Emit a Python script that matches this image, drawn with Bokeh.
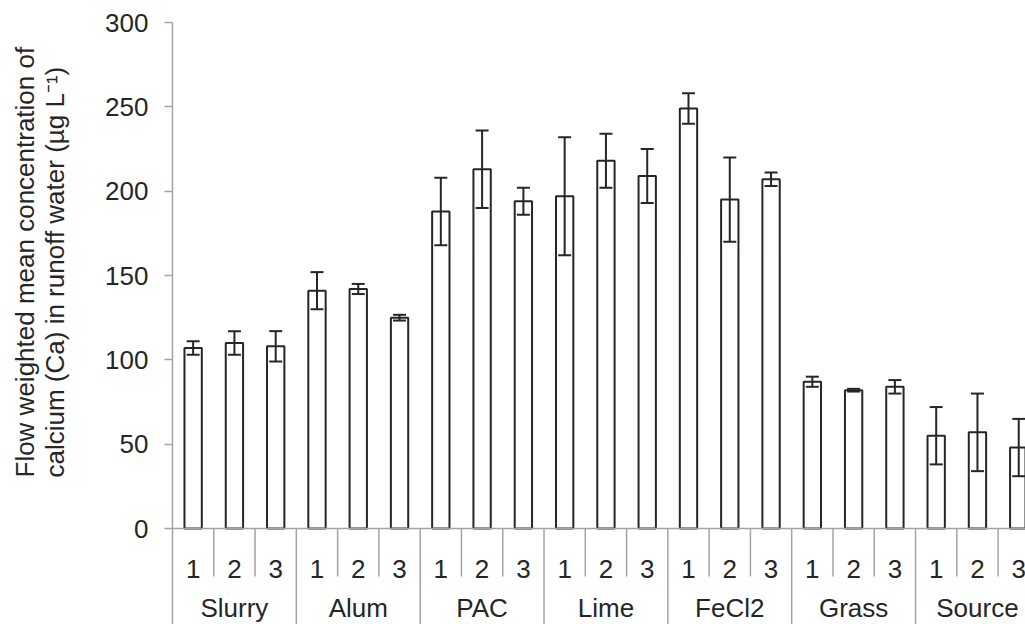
from bokeh.plotting import figure
from bokeh.models import Range1d, FixedTicker, Title, Whisker, ColumnDataSource, TeeHead
from bokeh.core.properties import value
from bokeh.embed import file_html
from bokeh.resources import INLINE

# ---------------- data ----------------
groups = ["Slurry", "Alum", "PAC", "Lime", "FeCl2", "Grass", "Source"]
reps = ["1", "2", "3"]
means = [107, 110, 108,
         141, 142, 125,
         188, 213, 194,
         197, 218, 209,
         249, 195, 207,
         87, 82, 84,
         55, 57, 48]
errors = [4, 7, 9,
          11, 3, 1.7,
          20, 23, 8,
          35, 16, 16,
          9, 25, 4,
          3, 0.8, 4,
          17, 23, 17]
y_ticks = [0, 50, 100, 150, 200, 250, 300]
y_label_lines = ["Flow weighted mean concentration of",
                 "calcium (Ca) in runoff water (\u00b5g L\u207b\u00b9)"]

# ---------------- layout ----------------
W, H = 1025, 624
B_LEFT, B_TOP = 172, 22
frame_w = W - B_LEFT
frame_h = H - B_TOP
CELL_PX = 41.28
PX_PER_UNIT = 506 / 300.0
x_end = frame_w / CELL_PX
y_start = -(frame_h - 300 * PX_PER_UNIT) / PX_PER_UNIT

def px_down(px):
    return -px / PX_PER_UNIT

FONT = "Liberation Sans"
TXT = "#262626"
GREY = "#a3a3a3"
BAR_LINE = "#262626"

n = len(groups) * len(reps)
xs = [i + 0.5 for i in range(n)]
src = ColumnDataSource(dict(
    x=xs, top=means,
    upper=[m + e for m, e in zip(means, errors)],
    lower=[m - e for m, e in zip(means, errors)],
))

p = figure(width=W, height=H, output_backend="svg", toolbar_location=None,
           x_range=Range1d(0, x_end), y_range=Range1d(y_start, 300),
           x_axis_type=None, min_border_left=B_LEFT, min_border_top=B_TOP,
           min_border_right=0, min_border_bottom=0)
p.outline_line_color = None
p.grid.visible = False
p.background_fill_color = "white"

# y axis
ya = p.yaxis[0]
ya.ticker = FixedTicker(ticks=y_ticks)
ya.major_tick_out = 8
ya.major_tick_in = 0
ya.minor_tick_line_color = None
ya.axis_line_color = GREY
ya.axis_line_width = 1.5
ya.major_tick_line_color = GREY
ya.major_tick_line_width = 1.5
ya.major_label_text_font = FONT
ya.major_label_text_font_size = "26px"
ya.major_label_text_color = TXT
ya.major_label_standoff = 16

# y axis title: two-line title in the left panel (a blank third line keeps
# the gap between the title and the tick labels)
p.add_layout(Title(text="\n".join(y_label_lines + [" "]), align="left", offset=147,
                   standoff=5, text_font=FONT, text_font_size="26px", text_color=TXT,
                   text_font_style="normal", text_line_height=1.0), "left")

# bars
p.vbar(x="x", top="top", bottom=0, width=0.42, source=src,
       fill_color="white", line_color=BAR_LINE, line_width=2)

# error bars
p.add_layout(Whisker(source=src, base="x", upper="upper", lower="lower",
                     dimension="height", line_color=BAR_LINE, line_width=2,
                     level="overlay",
                     upper_head=TeeHead(size=13, line_color=BAR_LINE, line_width=2),
                     lower_head=TeeHead(size=13, line_color=BAR_LINE, line_width=2)))

# zero line
p.segment(x0=[0], y0=[0], x1=[x_end], y1=[0], line_color=GREY, line_width=1.5)

# category axis separators
short_x, long_x = [], []
for k in range(1, n + 1):
    (long_x if k % len(reps) == 0 else short_x).append(k)
p.segment(x0=short_x, y0=[0] * len(short_x), x1=short_x,
          y1=[px_down(48)] * len(short_x), line_color=GREY, line_width=1.5)
p.segment(x0=long_x, y0=[0] * len(long_x), x1=long_x,
          y1=[y_start] * len(long_x), line_color=GREY, line_width=1.5)

# tick labels (replicates + groups)
rep_labels = [r for g in groups for r in reps]
p.text(x=xs, y=[px_down(40)] * n, text=rep_labels,
       text_font=value(FONT), text_font_size="26px", text_color=TXT,
       text_align="center", text_baseline="alphabetic")
gx = [(gi + 0.5) * len(reps) for gi in range(len(groups))]
p.text(x=gx, y=[px_down(79)] * len(groups), text=groups,
       text_font=value(FONT), text_font_size="26px", text_color=TXT,
       text_align="center", text_baseline="alphabetic")

open("out.html", "w").write(file_html(p, INLINE))
